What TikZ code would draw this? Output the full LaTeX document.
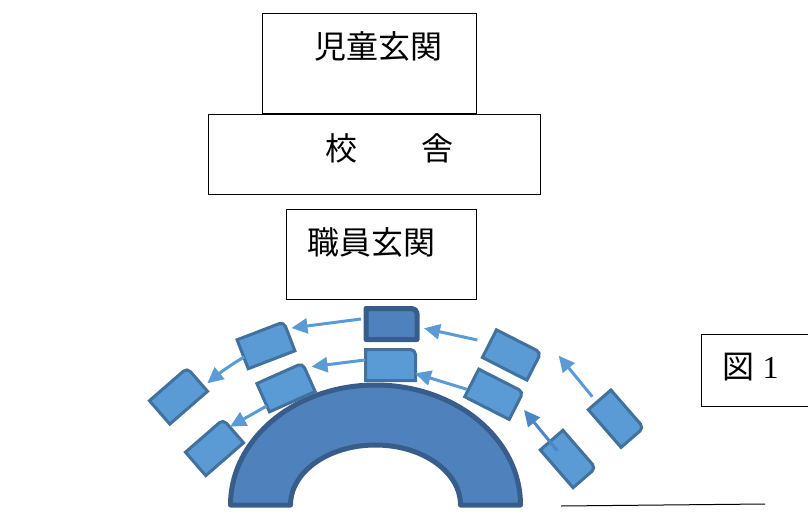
\documentclass[tikz,border=0pt]{standalone}
\usepackage{fontspec}
\setmainfont{Liberation Serif}
\newfontfamily\jpfont{Noto Sans CJK JP}
\usetikzlibrary{arrows.meta}
\definecolor{seatfill}{HTML}{5B9BD5}
\definecolor{seatline}{HTML}{41719C}
\definecolor{darkfill}{HTML}{4F81BD}
\definecolor{darkline}{HTML}{385D8A}
\definecolor{arrowdark}{HTML}{4A86C8}
\tikzset{
  plainbox/.style={draw=black,line width=1pt,fill=none,inner sep=0pt,outer sep=0pt},
  label text/.style={inner sep=0pt,font=\jpfont\fontsize{32}{32}\selectfont,text=black},
  seatbase/.style={inner sep=0pt,outer sep=0pt},
  seatedge/.style={fill=seatfill,draw=seatline,line width=3pt,line join=miter},
  darkedge/.style={fill=darkfill,draw=darkline,line width=5pt,line join=round},
  flow/.style={draw=seatfill,fill=seatfill,line width=3pt,-{Triangle[length=16pt,width=15pt]}},
  flowdark/.style={flow,draw=arrowdark,fill=arrowdark}
}
% name, x, y, angle, width, height, edge style
\newcommand{\seatshape}[7]{%
  \node[seatbase,rotate=#4,minimum width=#5pt,minimum height=#6pt] (#1) at (#2,#3) {};
  \draw[#7] (#1.south west) -- (#1.south east) [rounded corners=5pt] -- (#1.north east) [sharp corners] -- (#1.north west) -- cycle;
}
\begin{document}
\begin{tikzpicture}[x=1pt,y=-1pt]
\useasboundingbox (0,0) rectangle (808,519);
% top boxes
\node[plainbox,minimum width=214.4pt,minimum height=100pt] (kids) at (369.5,63.7) {};
\node[plainbox,minimum width=332.4pt,minimum height=80pt] (school) at (374.5,154.3) {};
\node[plainbox,minimum width=190pt,minimum height=89.7pt] (staff) at (381.7,254.2) {};
\node[plainbox,minimum width=108pt,minimum height=72pt] (fig) at (755,370) {};
\node[label text] (kidst) at (378.5,46) {児童玄関};
\node[label text] (schoolt) at (389,148) {校　　舎};
\node[label text] (stafft) at (371,242) {職員玄関};
\node[inner sep=0pt,text=black,font=\fontsize{32}{32}\selectfont] (figt) at (750.5,367) {{\jpfont 図} 1};
% arch
\draw[darkedge] (230.5,505) .. controls (230.5,438.7) and (295.4,385) .. (375.5,385)
  .. controls (455.6,385) and (520.5,438.7) .. (520.5,505) -- (460.5,505)
  .. controls (460.5,471.9) and (422.5,445) .. (375.5,445)
  .. controls (328.5,445) and (290.5,471.9) .. (290.5,505) -- cycle;
% seats
\seatshape{c1}{391.5}{324}{0}{51}{31}{darkedge}
\seatshape{c2}{390.5}{365}{0}{50}{31}{seatedge}
\seatshape{l1}{266}{345.3}{21}{50}{31}{seatedge}
\seatshape{l2}{178.5}{396}{41}{50}{31}{seatedge}
\seatshape{l3}{286}{387.5}{24}{50}{31}{seatedge}
\seatshape{l4}{214.5}{447.5}{41}{50}{31}{seatedge}
\seatshape{r1}{511.7}{355}{-27}{50}{31}{seatedge}
\seatshape{r2}{494}{394.3}{-27}{50}{31}{seatedge}
\seatshape{r3}{568}{459}{-49}{50}{30}{seatedge}
\seatshape{r4}{616}{418.7}{-49}{50}{30}{seatedge}
% arrow free ends
\coordinate (a1s) at (361,319);
\coordinate (a1e) at (291.5,328);
\coordinate (a2s) at (365,360);
\coordinate (a2e) at (311.5,366.7);
\coordinate (a3s) at (244,357);
\coordinate (a3e) at (207.3,383.3);
\coordinate (a4s) at (266.7,406);
\coordinate (a4e) at (230,426.7);
\coordinate (b1s) at (477.3,340);
\coordinate (b1e) at (424,328.3);
\coordinate (b2s) at (466.7,389.3);
\coordinate (b2e) at (415,373.3);
\coordinate (b3s) at (592.3,396.7);
\coordinate (b3e) at (558.7,355.7);
\coordinate (b4s) at (557.3,450.7);
\coordinate (b4e) at (524,410);
% arrows
\draw[flow] (a1s) -- (a1e);
\draw[flow] (a2s) -- (a2e);
\draw[flow] (a3s) to[bend right=4] (a3e);
\draw[flow] (a4s) -- (a4e);
\draw[flow] (b1s) -- (b1e);
\draw[flow] (b2s) -- (b2e);
\draw[flow] (b3s) -- (b3e);
\draw[flowdark] (b4s) -- (b4e);
% line
\coordinate (ln1) at (561,506);
\coordinate (ln2) at (765,504);
\draw[black,line width=1pt] (ln1) -- (ln2);
\end{tikzpicture}
\end{document}
